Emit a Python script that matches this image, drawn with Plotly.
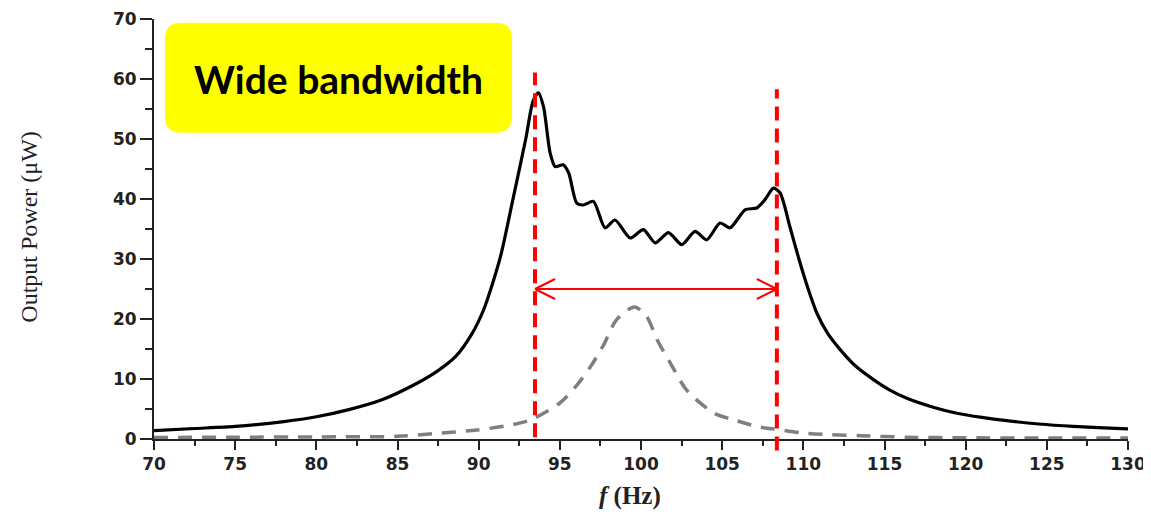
import plotly.graph_objects as go

# ---- data ----
freq_wide = [70.0, 72.5, 75.0, 78.0, 80.0, 82.0, 84.0, 86.0, 87.5, 88.6, 89.6, 90.3, 90.9, 91.4,
             92.1, 92.9, 93.35, 93.68, 94.0, 94.4, 94.71, 95.2, 95.55, 96.04, 96.45, 97.07,
             97.78, 98.4, 99.33, 100.15, 100.87, 101.69, 102.51, 103.33, 104.05, 104.87,
             105.49, 106.41, 107.13, 107.64, 108.16, 108.57, 109.19, 109.75, 110.3, 110.83,
             111.5, 112.27, 113.2, 114.32, 115.3, 116.38, 118.0, 119.46, 121.0, 122.54,
             124.5, 126.64, 128.5, 130.0]
power_wide = [1.4, 1.75, 2.1, 2.9, 3.7, 4.9, 6.5, 9.0, 11.4, 13.8, 17.6, 21.5, 26.3, 31.0,
              39.8, 50.0, 56.3, 57.7, 55.3, 47.7, 45.4, 45.7, 44.3, 39.3, 39.0, 39.6,
              35.2, 36.5, 33.5, 34.9, 32.7, 34.4, 32.4, 34.6, 33.2, 36.0,
              35.2, 38.2, 38.5, 39.9, 41.8, 41.0, 35.2, 29.8, 25.0, 21.0,
              17.6, 14.9, 12.2, 9.9, 8.2, 6.8, 5.3, 4.3, 3.6, 3.05,
              2.5, 2.1, 1.85, 1.7]

freq_single = [70.0, 75.0, 80.0, 85.0, 87.2, 89.9, 92.1, 93.2, 95.0, 96.0, 96.9, 97.7, 98.5,
               99.6, 100.35, 101.0, 101.8, 102.8, 104.5, 105.7, 107.3, 108.2, 110.0, 111.5,
               113.5, 116.4, 120.0, 125.0, 130.0]
power_single = [0.25, 0.3, 0.35, 0.45, 0.9, 1.5, 2.4, 3.2, 6.0, 8.8, 12.1, 15.7, 19.9,
                22.0, 20.4, 16.5, 12.7, 8.2, 4.3, 3.2, 2.0, 1.67, 1.0, 0.75,
                0.55, 0.3, 0.2, 0.15, 0.15]

band_edges = [93.47, 108.37]      # Hz, red dashed markers
band_tops = [61.1, 58.3]          # µW
band_bottoms = [0.3, -1.9]        # µW
arrow_level = 25.0                # µW

x_range = [70, 130]
y_range = [0, 70]
x_ticks = [70, 75, 80, 85, 90, 95, 100, 105, 110, 115, 120, 125, 130]
y_ticks = [0, 10, 20, 30, 40, 50, 60, 70]

box_label = "Wide bandwidth"
x_title = "<i>f</i> (Hz)"
y_title = "Output Power (\u03bcW)"

# ---- layout geometry (pixels) ----
W, H = 1151, 512
OFF = 8                                   # page body margin in the browser
PX0, PX1, PY0, PY1 = 154, 1128, 19.3, 439.3   # target plot area on screen
PW, PH = PX1 - PX0, PY1 - PY0
ML = PX0 - OFF
MT = int(round(PY0 - OFF))
MR = W - ML - PW
MB = H - MT - int(round(PH))


def px_to_paper(px, py):
    return (px - PX0) / PW, (PY1 - py) / PH


def val_to_paper_y(v):
    return (v - y_range[0]) / (y_range[1] - y_range[0])


fig = go.Figure()

fig.add_trace(go.Scatter(
    x=freq_single, y=power_single, mode="lines",
    line=dict(color="#7f7f7f", width=3.5, dash="14px,10px", shape="spline", smoothing=0.8),
    showlegend=False, hoverinfo="skip"))

fig.add_trace(go.Scatter(
    x=freq_wide, y=power_wide, mode="lines",
    line=dict(color="#000000", width=3.2, shape="spline", smoothing=0.7),
    showlegend=False, hoverinfo="skip"))

shapes = []
# red dashed band edges (y in paper units so they may run past the axis line)
for xe, yt, yb in zip(band_edges, band_tops, band_bottoms):
    shapes.append(dict(type="line", xref="x", yref="paper", x0=xe, x1=xe,
                       y0=val_to_paper_y(yb), y1=val_to_paper_y(yt),
                       line=dict(color="#ff0000", width=4, dash="14px,8px"), layer="above"))

# double headed arrow
arm_dx = 20 / (PW / (x_range[1] - x_range[0]))
arm_dy = 10 / (PH / (y_range[1] - y_range[0]))
red2 = dict(color="#ff0000", width=2)
shapes.append(dict(type="line", xref="x", yref="y", x0=band_edges[0], x1=band_edges[1],
                   y0=arrow_level, y1=arrow_level, line=red2))
for tip, sgn in ((band_edges[0], 1), (band_edges[1], -1)):
    for s in (1, -1):
        shapes.append(dict(type="line", xref="x", yref="y", x0=tip, y0=arrow_level,
                           x1=tip + sgn * arm_dx, y1=arrow_level + s * arm_dy, line=red2))

# yellow rounded label box
bx0, by0 = px_to_paper(165, 133)
bx1, by1 = px_to_paper(512, 23)
rx, ry = 16 / PW, 16 / PH
path = (f"M {bx0+rx},{by0} L {bx1-rx},{by0} Q {bx1},{by0} {bx1},{by0+ry} "
        f"L {bx1},{by1-ry} Q {bx1},{by1} {bx1-rx},{by1} L {bx0+rx},{by1} "
        f"Q {bx0},{by1} {bx0},{by1-ry} L {bx0},{by0+ry} Q {bx0},{by0} {bx0+rx},{by0} Z")
shapes.append(dict(type="path", xref="paper", yref="paper", path=path,
                   fillcolor="#ffff00", line=dict(width=0), layer="above"))

annotations = []
cx, cy = px_to_paper(338, 79)
annotations.append(dict(xref="paper", yref="paper", x=cx, y=cy, text=f"<b>{box_label}</b>",
                        showarrow=False, xanchor="center", yanchor="middle",
                        font=dict(family="Lato", size=39, color="#000000")))
tx, ty = px_to_paper(29, 227)
annotations.append(dict(xref="paper", yref="paper", x=tx, y=ty, text=y_title, textangle=-90,
                        showarrow=False, xanchor="center", yanchor="middle",
                        font=dict(family="Liberation Serif", size=24, color="#222222")))
tx, ty = px_to_paper(630, 496)
annotations.append(dict(xref="paper", yref="paper", x=tx, y=ty, text=f"<b>{x_title}</b>",
                        showarrow=False, xanchor="center", yanchor="middle",
                        font=dict(family="Liberation Serif", size=25, color="#222222")))

tick_font = dict(family="DejaVu Sans", size=17, color="#222222", weight="bold")

fig.update_layout(
    width=W, height=H,
    margin=dict(l=ML, r=MR, t=MT, b=MB, pad=0, autoexpand=False),
    paper_bgcolor="white", plot_bgcolor="white",
    shapes=shapes, annotations=annotations,
    xaxis=dict(range=x_range, tickvals=x_ticks, ticktext=[str(v) for v in x_ticks],
               automargin=False,
               showgrid=False, zeroline=False, showline=True, linecolor="#222222", linewidth=2,
               ticks="outside", ticklen=9, tickwidth=2, tickcolor="#222222", tickfont=tick_font,
               minor=dict(dtick=2.5, tick0=70, ticks="outside", ticklen=5, tickwidth=2,
                          tickcolor="#222222", showgrid=False)),
    yaxis=dict(range=y_range, tickvals=y_ticks, ticktext=[str(v) for v in y_ticks],
               automargin=False,
               showgrid=False, zeroline=False, showline=True, linecolor="#222222", linewidth=2,
               ticks="outside", ticklen=12, tickwidth=2, tickcolor="#222222", tickfont=tick_font,
               minor=dict(dtick=5, tick0=0, ticks="outside", ticklen=7, tickwidth=2,
                          tickcolor="#222222", showgrid=False)),
)

fig.write_html("out.html")
